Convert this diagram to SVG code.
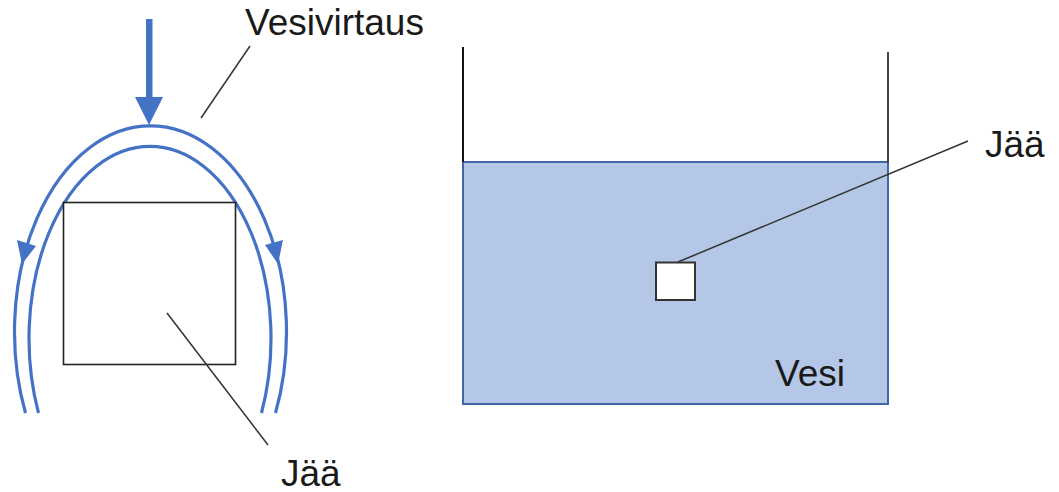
<svg xmlns="http://www.w3.org/2000/svg" width="1059" height="492" viewBox="0 0 1059 492">
<style>
.txt{font-family:"Liberation Sans",Arial,sans-serif;font-size:37px;fill:#1a1a1a}
.flow{fill:none;stroke:#4472C4;stroke-width:3.2}
.head{fill:#4472C4;stroke:none}
.lead{stroke:#333;stroke-width:1.5;fill:none}
.ice{fill:#fff;stroke:#222;stroke-width:1.6}
</style>
<rect width="1059" height="492" fill="#fff"/>
<g id="flow">
  <path class="flow" d="M 25.5 413 A 136 206 0 1 1 275.5 413"/>
  <path class="flow" d="M 38.5 413 A 121 192 0 1 1 261.5 413"/>
  <rect class="head" x="146" y="19" width="6.5" height="80"/>
  <polygon class="head" points="135,97 163,97 149,125"/>
  <polygon class="head" points="17,240 36,246 22,264"/>
  <polygon class="head" points="265,245 283,240 278,264"/>
</g>
<g id="ice-left">
  <rect class="ice" x="63.5" y="202.5" width="172" height="162"/>
</g>
<g id="container">
  <rect x="463" y="162" width="425" height="242" fill="#B4C7E7" stroke="#4266AC" stroke-width="2"/>
  <line x1="463" y1="47" x2="463" y2="162" stroke="#111" stroke-width="2"/>
  <line x1="888" y1="52" x2="888" y2="163" stroke="#444" stroke-width="2"/>
</g>
<g id="ice-right">
  <rect x="656" y="262.5" width="39" height="37.5" fill="#fff" stroke="#333" stroke-width="2"/>
</g>
<g id="connectors">
  <line class="lead" x1="250" y1="46" x2="201" y2="118"/>
  <line class="lead" x1="167" y1="313" x2="268" y2="445"/>
  <line class="lead" x1="678" y1="262" x2="968" y2="141"/>
</g>
<g id="labels">
  <text class="txt" x="245" y="35">Vesivirtaus</text>
  <text class="txt" x="281" y="486">Jää</text>
  <text class="txt" x="985" y="157">Jää</text>
  <text class="txt" x="775" y="386">Vesi</text>
</g>
</svg>
